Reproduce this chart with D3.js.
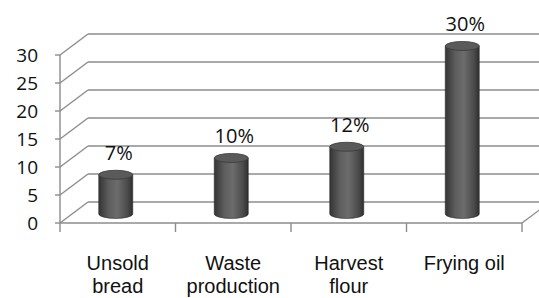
<!DOCTYPE html>
<html><head><meta charset="utf-8">
<script src="https://cdn.jsdelivr.net/npm/d3@7"></script>
<style>html,body{margin:0;padding:0;background:#fff;overflow:hidden}</style>
</head><body>
<svg id="c" width="539" height="298"></svg>
<script>
const categories = [["Unsold","bread"],["Waste","production"],["Harvest","flour"],["Frying oil"]];
const values = [7, 10, 12, 30];
const labels = ["7%", "10%", "12%", "30%"];
const yTicks = [0, 5, 10, 15, 20, 25, 30];

const svg = d3.select("#c");
const font = "'Open Sans', sans-serif";
const catFont = "'Liberation Sans', Arial, sans-serif";
const grid = "#8c8c8c";
const DX = 28, DY = -21;          // depth offset of back wall
const depthFrac = 0.43;            // bars sit partway into the depth

const x = d3.scaleBand().domain(d3.range(categories.length)).range([60, 522]);
const y = d3.scaleLinear().domain([0, 30]).range([223, 55]);

const defs = svg.append("defs");
const g = defs.append("linearGradient").attr("id", "cyl");
[[0,"#343434"],[0.3,"#5e5e5e"],[0.55,"#6c6c6c"],[0.85,"#4a4a4a"],[1,"#2e2e2e"]].forEach(([o,c]) =>
  g.append("stop").attr("offset", o).attr("stop-color", c));

// back wall gridlines + side wall diagonals
yTicks.forEach(t => {
  svg.append("line").attr("x1", 60).attr("y1", y(t)).attr("x2", 60 + DX).attr("y2", y(t) + DY)
    .attr("stroke", grid).attr("stroke-width", 1.4);
  svg.append("line").attr("x1", 60 + DX).attr("y1", y(t) + DY).attr("x2", 560).attr("y2", y(t) + DY)
    .attr("stroke", grid).attr("stroke-width", 1.4);
});
// floor
svg.append("line").attr("x1", 60).attr("y1", y(0)).attr("x2", 522).attr("y2", y(0)).attr("stroke", grid).attr("stroke-width", 1.4);
svg.append("line").attr("x1", 522).attr("y1", y(0)).attr("x2", 522 + DX).attr("y2", y(0) + DY).attr("stroke", grid).attr("stroke-width", 1.4);
// front value axis
svg.append("line").attr("x1", 60).attr("y1", y(0)).attr("x2", 60).attr("y2", y(30)).attr("stroke", grid).attr("stroke-width", 1.4);
yTicks.forEach(t => {
  svg.append("line").attr("x1", 55).attr("y1", y(t)).attr("x2", 60).attr("y2", y(t)).attr("stroke", grid).attr("stroke-width", 1.4);
  svg.append("text").attr("x", 38).attr("y", y(t) + 7).attr("text-anchor", "end")
    .attr("font-family", font).attr("font-size", 19).attr("fill", "#111").text(t);
});
// category ticks
x.domain().concat([categories.length]).forEach(i => {
  const xx = i < categories.length ? x(i) : x.range()[1];
  svg.append("line").attr("x1", xx).attr("y1", y(0)).attr("x2", xx).attr("y2", y(0) + 9).attr("stroke", grid).attr("stroke-width", 1.4);
});

// bars
const bw = 34, ry = 4.5;
values.forEach((v, i) => {
  const cx = x(i) + x.bandwidth() / 2 - 2;
  const base = y(0) + DY * depthFrac;
  const top = y(v) + DY * depthFrac;
  svg.append("path")
    .attr("d", `M${cx - bw/2},${top} L${cx - bw/2},${base} A${bw/2},${ry} 0 0 0 ${cx + bw/2},${base} L${cx + bw/2},${top} Z`)
    .attr("fill", "url(#cyl)").attr("stroke", "#2a2a2a").attr("stroke-width", 0.6);
  svg.append("ellipse").attr("cx", cx).attr("cy", top).attr("rx", bw/2).attr("ry", ry)
    .attr("fill", "#5a5a5a").attr("stroke", "#3a3a3a").attr("stroke-width", 0.8);
  svg.append("text").attr("x", cx + 3).attr("y", top - 15).attr("text-anchor", "middle")
    .attr("font-family", font).attr("font-size", 20).attr("fill", "#111").text(labels[i]);
});

// category labels
categories.forEach((lines, i) => {
  lines.forEach((l, k) => svg.append("text").attr("text-anchor", "middle").attr("font-family", catFont)
    .attr("font-size", 20).attr("fill", "#111")
    .attr("x", x(i) + x.bandwidth() / 2).attr("y", 270 + k * 23).text(l));
});
</script>
</body></html>
